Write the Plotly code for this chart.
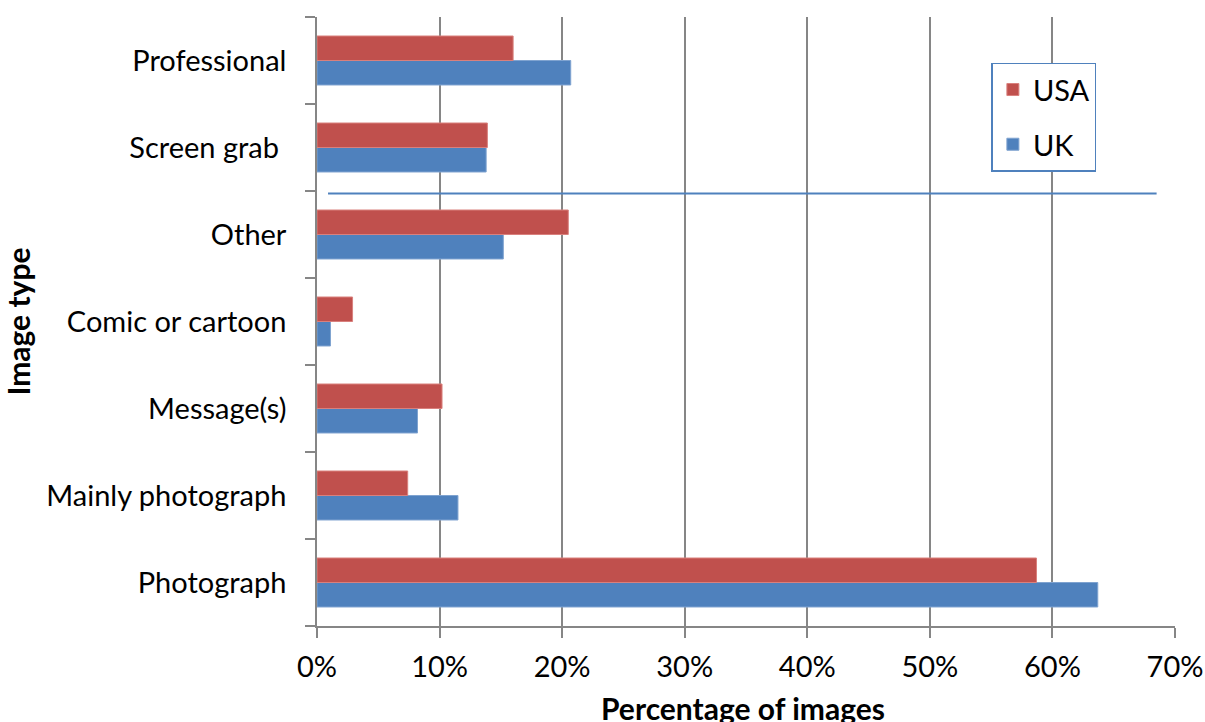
import plotly.graph_objects as go

categories = ["Photograph", "Mainly photograph", "Message(s)", "Comic or cartoon",
              "Other", "Screen grab\u00a0", "Professional"]
usa = [58.7, 7.4, 10.2, 2.9, 20.5, 13.9, 16.0]
uk = [63.7, 11.5, 8.2, 1.1, 15.2, 13.8, 20.7]
x_ticks = [0, 10, 20, 30, 40, 50, 60, 70]
x_tick_labels = [f"{v}%" for v in x_ticks]

FONT = "Lato, Open Sans, sans-serif"
RED = "#C0504D"
BLUE = "#4F81BD"
GRID = "#868686"
FS = 29

fig = go.Figure()
fig.add_trace(go.Bar(y=categories, x=uk, name="UK", orientation="h",
                     marker=dict(color=BLUE, line=dict(color="#7FA3D0", width=1)),
                     legendgroup="uk", legendrank=2))
fig.add_trace(go.Bar(y=categories, x=usa, name="USA", orientation="h",
                     marker=dict(color=RED, line=dict(color="#D9807D", width=1)),
                     legendgroup="usa", legendrank=1))

# stray horizontal line present in the original image
fig.add_shape(type="line", xref="x", yref="y", x0=0.9, x1=68.5, y0=4.47, y1=4.47,
              line=dict(color=BLUE, width=2))

# x-axis title (sits at the very bottom edge, as in the original)
fig.add_annotation(text="<b>Percentage of images</b>", xref="paper", yref="paper",
                   x=0.497, y=-0.135, xanchor="center", yanchor="middle",
                   showarrow=False, font=dict(family=FONT, size=30, color="black"))

fig.update_layout(
    width=1205, height=722,
    margin=dict(l=317, r=30, t=17, b=96),
    paper_bgcolor="white", plot_bgcolor="white",
    barmode="group", bargap=0.437, bargroupgap=0,
    font=dict(family=FONT, size=FS, color="black"),
    showlegend=True,
    legend=dict(x=0.786, y=0.925, xanchor="left", yanchor="top",
                bordercolor=BLUE, borderwidth=1.5, bgcolor="white",
                traceorder="grouped", tracegroupgap=14,
                font=dict(family=FONT, size=FS, color="black"),
                itemwidth=30),
    xaxis=dict(range=[0, 70], tickvals=x_ticks, ticktext=x_tick_labels,
               automargin=False,
               showgrid=True, gridcolor=GRID, gridwidth=1.5,
               showline=True, linecolor=GRID, linewidth=1.5,
               ticks="outside", ticklen=10, tickcolor=GRID, tickwidth=1.5,
               ticklabelstandoff=4,
               tickfont=dict(family=FONT, size=FS, color="black"),
               zeroline=False),
    yaxis=dict(categoryorder="array", categoryarray=categories,
               automargin=False,
               showline=True, linecolor=GRID, linewidth=1.5,
               ticks="outside", ticklen=10, tickcolor=GRID, tickwidth=1.5,
               tickson="boundaries", ticklabelstandoff=23,
               tickfont=dict(family=FONT, size=FS, color="black"),
               showgrid=False, zeroline=False,
               title=dict(text="<b>Image type</b>",
                          font=dict(family=FONT, size=30, color="black"))),
)

fig.write_html("out.html")
